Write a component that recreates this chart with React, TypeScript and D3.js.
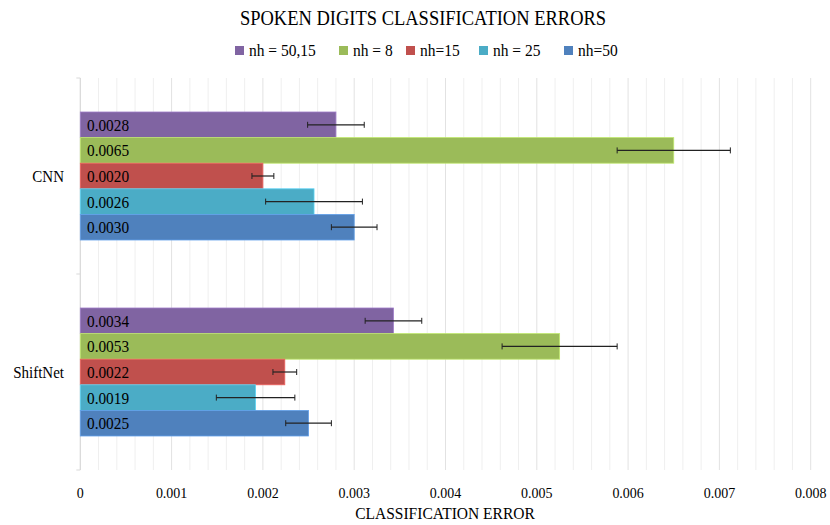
import React from "react";
import * as d3 from "d3";

const categories = ["CNN", "ShiftNet"];
const seriesNames = ["nh = 50,15", "nh = 8", "nh=15", "nh = 25", "nh=50"];
const seriesColors = ["#8064A2", "#9BBB59", "#C0504D", "#4BACC6", "#4F81BD"];
const cnnValues = [0.0028, 0.0065, 0.0020, 0.00256, 0.0030];
const cnnErrors = [0.00031, 0.00062, 0.00012, 0.00053, 0.00025];
const shiftValues = [0.00343, 0.00525, 0.00224, 0.00192, 0.0025];
const shiftErrors = [0.00031, 0.00063, 0.00013, 0.00043, 0.00025];
const xTicks = [0, 0.001, 0.002, 0.003, 0.004, 0.005, 0.006, 0.007, 0.008];

const W = 830, H = 525;
const FONT = "'Liberation Serif', 'Times New Roman', serif";

function T({ x, y, size, sy = 1.06, anchor = "start", children }: any) {
  return (
    <text transform={`translate(${x},${y}) scale(1,${sy})`} textAnchor={anchor} fontSize={size} fill="#000">{children}</text>
  );
}

export default function App() {
  const left = 80.3, right = 810.7, top = 78, bottom = 470;
  const x = d3.scaleLinear().domain([0, 0.008]).range([left, right]);
  const yCat = d3.scaleBand().domain(categories).range([top, bottom]).paddingInner(0).paddingOuter(0);
  const bandPad = 34;
  const values = [cnnValues, shiftValues];
  const errors = [cnnErrors, shiftErrors];
  const minorTicks = d3.range(0, 0.00801, 0.0002);

  return (
    <svg width={W} height={H} style={{ position: "absolute", left: 0, top: 0, background: "#fff" }} fontFamily={FONT}>
      <T x={423} y={25} size={18.5} sy={1.15} anchor="middle">SPOKEN DIGITS CLASSIFICATION ERRORS</T>
      {/* legend */}
      {seriesNames.map((s, i) => {
        const xs = [235, 339, 406, 479, 564][i];
        return (
          <g key={s}>
            <rect x={xs} y={46} width={9} height={9} fill={seriesColors[i]} />
            <T x={xs + 14} y={56} size={15.5}>{s}</T>
          </g>
        );
      })}
      {/* grid */}
      {minorTicks.map((t, i) => (
        <line key={"m" + i} x1={x(t)} x2={x(t)} y1={top} y2={bottom}
          stroke={i % 5 === 0 ? "#e2e2e2" : "#efefef"} strokeWidth={1} />
      ))}
      {/* left axis */}
      <line x1={left} x2={left} y1={top} y2={bottom} stroke="#d9d9d9" />
      {[top, yCat("ShiftNet")!, bottom].map((yy, i) => (
        <line key={"t" + i} x1={left - 4} x2={left} y1={yy} y2={yy} stroke="#d9d9d9" />
      ))}
      {categories.map((c, ci) => {
        const y0 = yCat(c)!;
        const yb = d3.scaleBand().domain(seriesNames).range([y0 + bandPad, y0 + yCat.bandwidth() - bandPad]).padding(0);
        return (
          <g key={c}>
            <T x={64} y={y0 + yCat.bandwidth() / 2 + 5.5} size={15} anchor="end">{c}</T>
            {seriesNames.map((s, si) => {
              const v = values[ci][si];
              const e = errors[ci][si];
              const by = yb(s)!;
              const bh = yb.bandwidth();
              const cy = by + bh / 2;
              return (
                <g key={s}>
                  <rect x={x(0)} y={by} width={x(v) - x(0)} height={bh} fill={seriesColors[si]}
                    stroke={d3.color(seriesColors[si])!.brighter(0.6).toString()} strokeWidth={0.8} />
                  <T x={87} y={cy + 6} size={15.3}>{d3.format(".4f")(v)}</T>
                  <line x1={x(v - e)} x2={x(v + e)} y1={cy} y2={cy} stroke="#222" strokeWidth={1.2} />
                  <line x1={x(v - e)} x2={x(v - e)} y1={cy - 3} y2={cy + 3} stroke="#222" strokeWidth={1} />
                  <line x1={x(v + e)} x2={x(v + e)} y1={cy - 3} y2={cy + 3} stroke="#222" strokeWidth={1} />
                </g>
              );
            })}
          </g>
        );
      })}
      {/* x tick labels */}
      {xTicks.map((t) => (
        <T key={t} x={x(t)} y={498} size={14} anchor="middle">{t === 0 ? "0" : d3.format(".3f")(t)}</T>
      ))}
      <T x={445} y={518.5} size={15.5} anchor="middle">CLASSIFICATION ERROR</T>
    </svg>
  );
}
